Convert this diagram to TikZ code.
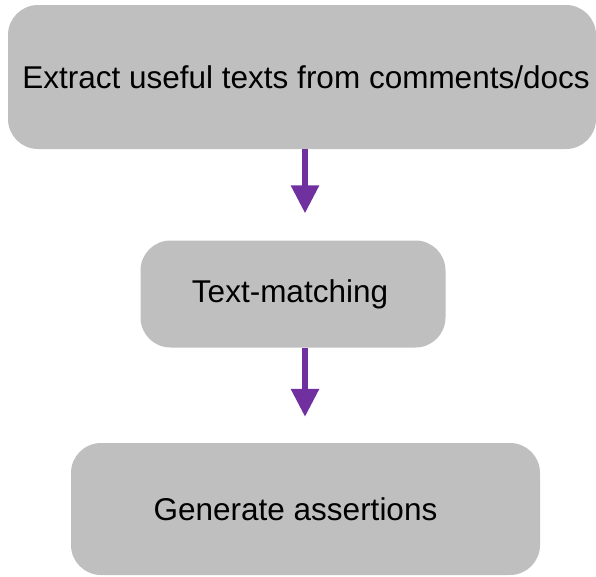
\documentclass[tikz,border=0pt]{standalone}
\usepackage{fontspec}
\setmainfont{Liberation Sans}
\usetikzlibrary{arrows.meta}

\definecolor{boxgray}{RGB}{191,191,191}
\definecolor{flowpurple}{RGB}{112,48,160}

\begin{document}
\begin{tikzpicture}[x=1pt,y=-1pt,
  stepbox/.style={fill=boxgray,rounded corners=30pt,inner sep=0pt,
    font=\fontsize{31.5}{38}\selectfont},
  flow/.style={flowpurple,line width=6pt,-{Triangle[width=27pt,length=28pt]}}]
\useasboundingbox (0,0) rectangle (596,576);
\newcommand{\ax}{305}

\node [stepbox,minimum width=588pt,minimum height=144pt] (extract) at (302,77) {\hspace*{8pt}Extract useful texts from comments/docs};
\node [stepbox,minimum width=305pt,minimum height=107pt] (match) at (293,294) {\hspace*{-6pt}Text-matching};
\node [stepbox,minimum width=469pt,minimum height=132pt] (generate) at (305.5,509) {Generate assertions\hspace*{20pt}};

\coordinate (axis) at (\ax,0);
\draw [flow,shorten >=27pt] (extract.south -| axis)--(match.north -| axis);
\draw [flow,shorten >=26pt] (match.south -| axis)--(generate.north -| axis);
\end{tikzpicture}
\end{document}
